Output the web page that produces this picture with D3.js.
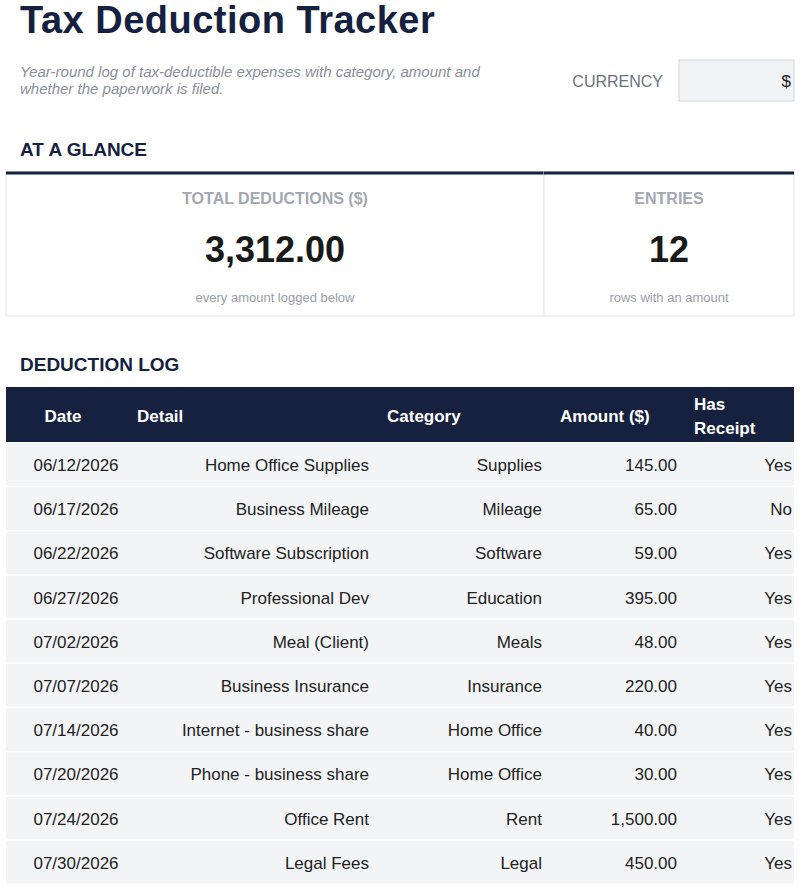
<!DOCTYPE html>
<html><head><meta charset="utf-8">
<script src="https://cdn.jsdelivr.net/npm/d3@7"></script>
<style>body{margin:0;background:#fff}svg,svg text{font-family:"Liberation Sans","Arimo",Arial,Helvetica,sans-serif}svg{display:block}</style>
</head><body><svg id="sheet" width="800" height="890"></svg>
<script>
const dates = ["06/12/2026","06/17/2026","06/22/2026","06/27/2026","07/02/2026","07/07/2026","07/14/2026","07/20/2026","07/24/2026","07/30/2026"];
const details = ["Home Office Supplies","Business Mileage","Software Subscription","Professional Dev","Meal (Client)","Business Insurance","Internet - business share","Phone - business share","Office Rent","Legal Fees"];
const categories = ["Supplies","Mileage","Software","Education","Meals","Insurance","Home Office","Home Office","Rent","Legal"];
const amounts = [145,65,59,395,48,220,40,30,1500,450];
const receipts = ["Yes","No","Yes","Yes","Yes","Yes","Yes","Yes","Yes","Yes"];
const totalDeductions = 3312;
const entryCount = 12;

const navy = "#15213f";
const svg = d3.select("#sheet");

// header
svg.append("text").attr("x",20).attr("y",33).attr("font-size",38).attr("font-weight","bold").attr("fill",navy).attr("letter-spacing",0.5).text("Tax Deduction Tracker");
svg.append("text").attr("font-size",15).attr("font-style","italic").attr("fill","#8a8f99")
  .selectAll("tspan").data(["Year-round log of tax-deductible expenses with category, amount and","whether the paperwork is filed."])
  .join("tspan").attr("x",20).attr("y",(d,i)=>77+i*17).text(d=>d);
svg.append("text").attr("x",663).attr("y",87).attr("text-anchor","end").attr("font-size",16).attr("fill","#6b7280").text("CURRENCY");
svg.append("rect").attr("x",679).attr("y",60).attr("width",115).attr("height",41).attr("fill","#f1f3f5").attr("stroke","#cfd4da");
svg.append("text").attr("x",791).attr("y",87).attr("text-anchor","end").attr("font-size",17).attr("fill","#222").text("$");

// at a glance
svg.append("text").attr("x",20).attr("y",156).attr("font-size",19).attr("font-weight","bold").attr("fill",navy).text("AT A GLANCE");
const fmt = d3.format(",.2f");
const cards = [
  {x:6,w:538,label:"TOTAL DEDUCTIONS ($)",value:fmt(totalDeductions),note:"every amount logged below"},
  {x:544,w:250,label:"ENTRIES",value:String(entryCount),note:"rows with an amount"}
];
const cg = svg.selectAll("g.card").data(cards).join("g").attr("class","card");
cg.append("rect").attr("x",d=>d.x).attr("y",172).attr("width",d=>d.w).attr("height",144).attr("fill","#fff").attr("stroke","#e1e3e6");
cg.append("line").attr("x1",d=>d.x).attr("x2",d=>d.x+d.w).attr("y1",173).attr("y2",173).attr("stroke",navy).attr("stroke-width",3);
cg.append("text").attr("x",d=>d.x+d.w/2).attr("y",204).attr("text-anchor","middle").attr("font-size",16).attr("font-weight","bold").attr("fill","#a3a7b1").text(d=>d.label);
cg.append("text").attr("x",d=>d.x+d.w/2).attr("y",262).attr("text-anchor","middle").attr("font-size",36).attr("font-weight","bold").attr("fill","#1a1a1a").text(d=>d.value);
cg.append("text").attr("x",d=>d.x+d.w/2).attr("y",302).attr("text-anchor","middle").attr("font-size",13).attr("fill","#9a9ea7").text(d=>d.note);

// log
svg.append("text").attr("x",20).attr("y",371).attr("font-size",19).attr("font-weight","bold").attr("fill",navy).text("DEDUCTION LOG");
svg.append("rect").attr("x",6).attr("y",387).attr("width",788).attr("height",55).attr("fill",navy);
const hdr = svg.append("g").attr("font-size",17).attr("font-weight","bold").attr("fill","#fff");
hdr.append("text").attr("x",63).attr("y",422).attr("text-anchor","middle").text("Date");
hdr.append("text").attr("x",137).attr("y",422).text("Detail");
hdr.append("text").attr("x",387).attr("y",422).text("Category");
hdr.append("text").attr("x",560).attr("y",422).text("Amount ($)");
hdr.append("text").attr("x",694).attr("y",410).text("Has");
hdr.append("text").attr("x",694).attr("y",434).text("Receipt");

const rows = dates.map((d,i)=>({date:d,detail:details[i],cat:categories[i],amt:amounts[i],rec:receipts[i]}));
const y = d3.scaleBand().domain(d3.range(rows.length)).range([443,443+44.2*rows.length]);
const rg = svg.selectAll("g.row").data(rows).join("g").attr("class","row")
  .attr("transform",(d,i)=>`translate(0,${y(i)})`).attr("font-size",17).attr("fill","#222");
rg.append("rect").attr("x",6).attr("width",788).attr("height",y.bandwidth()-1.5).attr("fill","#f3f4f6");
const ty = y.bandwidth()/2+6;
rg.append("text").attr("x",76).attr("y",ty).attr("text-anchor","middle").text(d=>d.date);
rg.append("text").attr("x",369).attr("y",ty).attr("text-anchor","end").text(d=>d.detail);
rg.append("text").attr("x",542).attr("y",ty).attr("text-anchor","end").text(d=>d.cat);
rg.append("text").attr("x",677).attr("y",ty).attr("text-anchor","end").text(d=>fmt(d.amt));
rg.append("text").attr("x",792).attr("y",ty).attr("text-anchor","end").text(d=>d.rec);
</script></body></html>
